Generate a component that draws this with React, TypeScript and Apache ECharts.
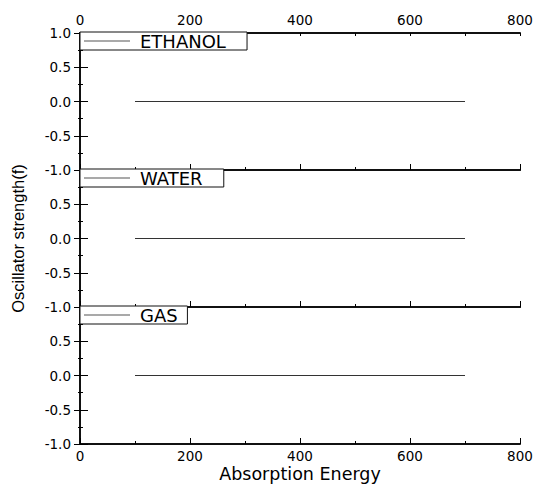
import React, { useEffect, useRef } from 'react';
import * as echarts from 'echarts';

const energies = [100, 700];
const ethanolF = [0, 0];
const waterF = [0, 0];
const gasF = [0, 0];
const panelNames = ['ETHANOL', 'WATER', 'GAS'];
const panelValues = [ethanolF, waterF, gasF];
const xMin = 0;
const xMax = 800;
const xStep = 200;
const yMin = -1;
const yMax = 1;
const yStep = 0.5;

export default function App() {
  const ref = useRef<HTMLDivElement>(null);
  useEffect(() => {
    const chart = echarts.init(ref.current!, null, { renderer: 'svg' });
    const grids = [
      { left: 80, right: 18, top: 33, height: 137 },
      { left: 80, right: 18, top: 170, height: 137 },
      { left: 80, right: 18, top: 307, height: 138 },
    ];
    const tickFont = { fontFamily: 'DejaVu Sans', fontSize: 13.5, color: '#000' };
    const axisLine = { show: true, onZero: false, lineStyle: { color: '#111', width: 2 } };
    const tickLine = { color: '#000', width: 1 };
    const xAxis: any[] = [];
    const yAxis: any[] = [];
    const series: any[] = [];
    const legend: any[] = [];
    const legendPadSpaces = [3, 3, 1];
    grids.forEach((g, i) => {
      xAxis.push({
        type: 'value', gridIndex: i, position: 'bottom', min: xMin, max: xMax, interval: xStep,
        axisLine,
        axisTick: { show: true, inside: true, length: 6, lineStyle: tickLine },
        minorTick: { show: true, splitNumber: 2, length: 3, lineStyle: tickLine },
        splitLine: { show: false }, minorSplitLine: { show: false },
        axisLabel: { show: i === 2, margin: 5, ...tickFont },
        name: i === 2 ? 'Absorption Energy' : '',
        nameLocation: 'middle', nameGap: 21,
        nameTextStyle: { fontFamily: 'DejaVu Sans', fontSize: 17.5, color: '#000' },
      });
      xAxis.push({
        type: 'value', gridIndex: i, position: 'top', min: xMin, max: xMax, interval: xStep,
        axisLine,
        axisTick: { show: i === 0, inside: true, length: 3, lineStyle: tickLine },
        minorTick: { show: i === 0, splitNumber: 2, length: 3, lineStyle: tickLine },
        splitLine: { show: false }, minorSplitLine: { show: false },
        axisLabel: { show: i === 0, margin: 6, ...tickFont },
      });
      yAxis.push({
        type: 'value', gridIndex: i, position: 'left', min: yMin, max: yMax, interval: yStep,
        axisLine: { show: true, lineStyle: { color: '#111', width: 2 } },
        axisTick: { show: true, inside: true, length: 8, lineStyle: tickLine },
        minorTick: { show: true, splitNumber: 2, length: 3, lineStyle: tickLine },
        splitLine: { show: false }, minorSplitLine: { show: false },
        axisLabel: {
          show: true, margin: 9, ...tickFont, showMaxLabel: i === 0,
          formatter: (v: number) => v.toFixed(1),
        },
        name: i === 1 ? 'Oscillator strength(f)' : '',
        nameLocation: 'middle', nameGap: 54,
        nameTextStyle: { fontFamily: 'Liberation Sans', fontSize: 16.5, color: '#000' },
      });
      yAxis.push({
        type: 'value', gridIndex: i, position: 'right', min: yMin, max: yMax, interval: yStep,
        axisLine: { show: true, lineStyle: { color: '#111', width: 2 } },
        axisTick: { show: true, inside: true, length: 6, lineStyle: tickLine },
        minorTick: { show: true, splitNumber: 2, length: 2, lineStyle: tickLine },
        splitLine: { show: false }, minorSplitLine: { show: false },
        axisLabel: { show: false },
      });
      series.push({
        type: 'line', name: panelNames[i], xAxisIndex: 2 * i, yAxisIndex: 2 * i,
        data: energies.map((e, k) => [e, panelValues[i][k]]),
        symbol: 'none', showSymbol: false,
        lineStyle: { color: '#333', width: 1 }, itemStyle: { color: '#333' },
      });
      legend.push({
        data: [panelNames[i]],
        left: 80, top: g.top - 1, orient: 'horizontal',
        padding: [0, 4, 0, 4],
        icon: 'rect',
        itemWidth: 46, itemHeight: 1,
        backgroundColor: '#fff', borderColor: '#111', borderWidth: 1, borderRadius: 0,
        itemStyle: { color: '#555' },
        formatter: (name: string) => name + '\u00a0'.repeat(legendPadSpaces[i]),
        textStyle: {
          fontFamily: 'DejaVu Sans', fontSize: 18, color: '#000',
          padding: [0, 0, 0, 5],
        },
        selectedMode: false,
        z: 10,
      });
    });
    chart.setOption({
      animation: false,
      backgroundColor: '#fff',
      grid: grids,
      xAxis, yAxis, series, legend,
    });
    return () => chart.dispose();
  }, []);
  return (
    <div ref={ref} style={{ position: 'fixed', left: 0, top: 0, width: 538, height: 484 }} />
  );
}
